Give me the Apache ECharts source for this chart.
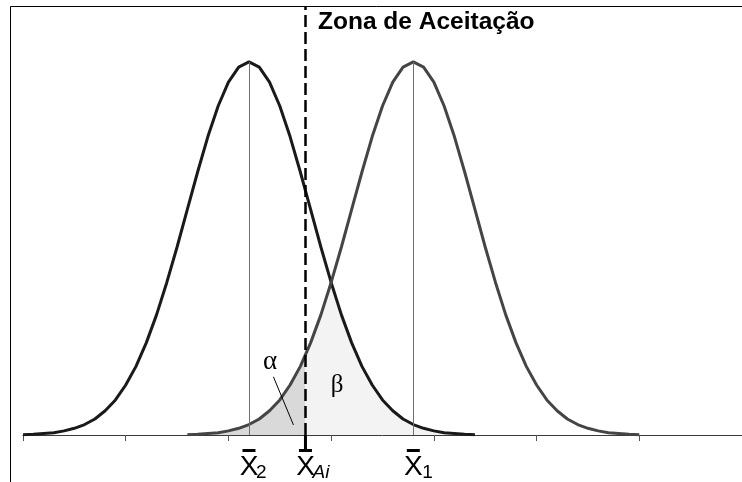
<!DOCTYPE html>
<html>
<head>
<meta charset="utf-8">
<script src="https://cdn.jsdelivr.net/npm/echarts@6/dist/echarts.min.js"></script>
<style>
  html, body { margin: 0; padding: 0; background: #fff; }
  #chart { width: 742px; height: 482px; }
</style>
</head>
<body>
<div id="chart"></div>
<script>
// Sample positions along the horizontal axis
const xs = [0.0,0.1,0.2,0.3,0.4,0.5,0.6,0.7,0.8,0.9,1.0,1.1,1.2,1.3,1.4,1.5,1.6,1.7,1.8,1.9,
            2.0,2.1,2.2,2.3,2.4,2.5,2.6,2.7,2.8,2.9,3.0,3.1,3.2,3.3,3.4,3.5,3.6,3.7,3.8,3.9,
            4.0,4.1,4.2,4.3,4.4,4.5,4.6,4.7,4.8,4.9,5.0,5.1,5.2,5.3,5.4,5.5,5.6,5.7,5.8,5.9,6.0];

// Distribution centred on X̄2
const curve2 = [0.001,0.002,0.004,0.006,0.011,0.018,0.028,0.043,0.065,0.094,0.134,0.184,0.247,0.322,0.409,0.504,
                0.605,0.705,0.800,0.882,0.946,0.986,1.000,0.986,0.946,0.882,0.800,0.705,0.605,0.504,0.409,0.322,
                0.247,0.184,0.134,0.094,0.065,0.043,0.028,0.018,0.011,0.006,0.004,0.002,0.001,
                null,null,null,null,null,null,null,null,null,null,null,null,null,null,null,null];

// Distribution centred on X̄1
const curve1 = [null,null,null,null,null,null,null,null,null,null,null,null,null,null,null,null,
                0.001,0.002,0.004,0.006,0.011,0.018,0.028,0.043,0.065,0.094,0.134,0.184,0.247,0.322,0.409,0.504,
                0.605,0.705,0.800,0.882,0.946,0.986,1.000,0.986,0.946,0.882,0.800,0.705,0.605,0.504,0.409,0.322,
                0.247,0.184,0.134,0.094,0.065,0.043,0.028,0.018,0.011,0.006,0.004,0.002,0.001];

// Means of the two distributions and the acceptance limit
const means = [2.2, 3.8];
const peaks = [1.0, 1.0];
const cutoff = 2.75;

// Axis tick positions
const tickValues = [0, 1, 2, 3, 4, 5, 6];

// Labels under the axis: position, subscript
const markerX = [2.2, 2.75, 3.8];
const markerSub = ['2', 'Ai', '1'];

const title = 'Zona de Aceitação';

// Overlap region: the lower of the two curves at each sample
const overlap = xs.map((x, i) => [x, Math.min(curve2[i] == null ? 0 : curve2[i], curve1[i] == null ? 0 : curve1[i])]);
// Where the acceptance limit falls across the overlap polygon (0..1)
const splitAt = (cutoff - xs[0]) / (xs[xs.length - 1] - xs[0]);

const chart = echarts.init(document.getElementById('chart'), null, { renderer: 'canvas' });

const LABEL_FONT = '"Liberation Sans Narrow", "Arial Narrow", "Liberation Sans", Arial, sans-serif';

const notes = {
  alpha: [2.406, 0.196],
  beta: [3.058, 0.134],
  leaderFrom: [2.438, 0.156],
  leaderTo: [2.633, 0.027]
};

chart.setOption({
  animation: false,
  backgroundColor: '#ffffff',
  grid: { left: 23, right: 0, top: 6, bottom: 47 },
  xAxis: {
    type: 'value', min: 0, max: 7,
    axisLine: { show: true, lineStyle: { color: '#3a3a3a', width: 1 } },
    axisTick: { show: true, customValues: tickValues, length: 6, lineStyle: { color: '#555', width: 1 } },
    axisLabel: { show: false },
    splitLine: { show: false }
  },
  yAxis: { type: 'value', min: 0, max: 1.15, show: false },
  graphic: [
    { type: 'rect', z: 100, silent: true,
      shape: { x: 10.5, y: 6.5, width: 900, height: 600 },
      style: { fill: 'none', stroke: '#000', lineWidth: 1 } },
    { type: 'text', z: 100, left: 318, top: 10,
      style: { text: title, font: 'bold 24.5px "Liberation Sans", Arial, sans-serif', fill: '#000' } }
  ],
  series: [
    {
      type: 'line', z: 1, data: overlap, symbol: 'none', silent: true,
      lineStyle: { width: 0, opacity: 0 },
      areaStyle: {
        opacity: 1,
        color: new echarts.graphic.LinearGradient(0, 0, 1, 0, [
          { offset: 0, color: '#d9d9d9' },
          { offset: splitAt, color: '#d9d9d9' },
          { offset: splitAt, color: '#f3f3f3' },
          { offset: 1, color: '#f3f3f3' }
        ])
      }
    },
    {
      type: 'line', z: 3, data: xs.map((x, i) => [x, curve2[i]]), symbol: 'none', silent: true,
      lineStyle: { color: '#1a1a1a', width: 3 }, connectNulls: false,
      markLine: {
        silent: true, symbol: 'none', label: { show: false },
        lineStyle: { color: '#707070', width: 1, type: 'solid' },
        data: [[{ coord: [means[0], 0] }, { coord: [means[0], peaks[0]] }]]
      }
    },
    {
      type: 'line', z: 3, data: xs.map((x, i) => [x, curve1[i]]), symbol: 'none', silent: true,
      lineStyle: { color: '#454545', width: 3 }, connectNulls: false,
      markLine: {
        silent: true, symbol: 'none', label: { show: false },
        lineStyle: { color: '#707070', width: 1, type: 'solid' },
        data: [[{ coord: [means[1], 0] }, { coord: [means[1], peaks[1]] }]]
      }
    },
    {
      // acceptance limit
      type: 'line', z: 4, data: [], silent: true,
      markLine: {
        silent: true, symbol: 'none', label: { show: false },
        lineStyle: { color: '#000', width: 2.5, type: [12, 5] },
        data: [{ xAxis: cutoff }]
      }
    },
    {
      // X̄ labels below the axis
      type: 'custom', z: 5, clip: false, silent: true,
      data: markerX.map(x => [x, 0]),
      renderItem(params, api) {
        const p = api.coord([api.value(0), 0]);
        const sub = markerSub[params.dataIndex];
        const kids = [
          // overline
          { type: 'rect', shape: { x: p[0] - 6.5, y: p[1] + 14, width: 13, height: 3 }, style: { fill: '#000' } },
          // X glyph
          { type: 'text', style: { text: 'X', x: p[0], y: p[1] + 32, align: 'center', verticalAlign: 'middle',
              font: '28px ' + LABEL_FONT, fill: '#000' } },
          // subscript
          { type: 'text', style: { text: sub, x: p[0] + (sub === '1' ? 9 : 7), y: p[1] + 38, align: 'left', verticalAlign: 'middle',
              font: (sub === 'Ai' ? 'italic ' : '') + '19px ' + LABEL_FONT, fill: '#000' } }
        ];
        if (sub === 'Ai') {
          kids.push({ type: 'line', shape: { x1: p[0], y1: p[1], x2: p[0], y2: p[1] + 15 },
            style: { stroke: '#000', lineWidth: 3 } });
        }
        return { type: 'group', children: kids };
      }
    },
    {
      // α / β annotations
      type: 'custom', z: 6, clip: false, silent: true,
      data: [[0, 0]],
      renderItem(params, api) {
        const a = api.coord(notes.alpha);
        const b = api.coord(notes.beta);
        const l1 = api.coord(notes.leaderFrom);
        const l2 = api.coord(notes.leaderTo);
        return { type: 'group', children: [
          { type: 'text', style: { text: 'α', x: a[0], y: a[1], align: 'center', verticalAlign: 'middle',
              font: '27px "Liberation Serif", "Times New Roman", serif', fill: '#000' } },
          { type: 'text', style: { text: 'β', x: b[0], y: b[1], align: 'center', verticalAlign: 'middle',
              font: '25px "Liberation Serif", "Times New Roman", serif', fill: '#000' } },
          { type: 'line', shape: { x1: l1[0], y1: l1[1], x2: l2[0], y2: l2[1] },
            style: { stroke: '#000', lineWidth: 1 } }
        ] };
      }
    }
  ]
});
</script>
</body>
</html>
